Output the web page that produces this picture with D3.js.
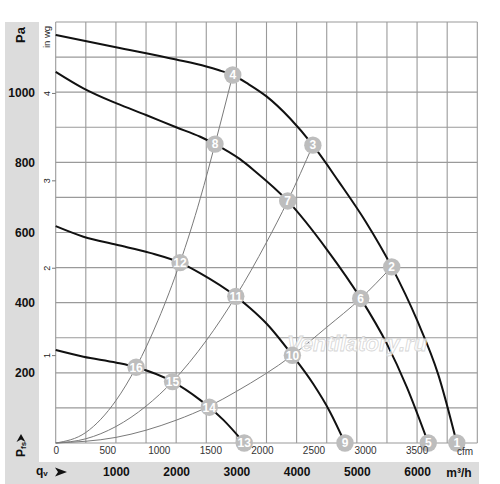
<!DOCTYPE html>
<html><head><meta charset="utf-8">
<script src="https://cdn.jsdelivr.net/npm/d3@7"></script>
<style>
html,body{margin:0;padding:0;background:#fff;}
text{font-family:'Liberation Sans',Arial,sans-serif;}
</style></head>
<body>
<svg id="c" width="500" height="484"></svg>
<script>
// ---- data (flow m³/h, static pressure Pa) ----
const flowTicks = [1000,2000,3000,4000,5000,6000];
const paTicks = [200,400,600,800,1000];
const inwgTicks = [1,2,3,4];
const cfmTicks = [0,500,1000,1500,2000,2500,3000,3500];
const gridFlow = [0,500,1000,1500,2000,2500,3000,3500,4000,4500,5000,5500,6000,6500,7000];
const gridPa = [0,100,200,300,400,500,600,700,800,900,1000,1100,1200];

const fanA = [[0,1163],[1000,1128],[2000,1093],[2500,1073],[2700,1063],[2940,1049],[3200,1023],[3500,988],[3892,925],[4270,849],[4700,745],[5150,630],[5579,502],[6000,350],[6352,195],[6660,0]];
const fanB = [[0,1058],[460,1011],[1010,968],[1500,935],[2000,900],[2400,873],[2645,852],[3060,809],[3300,776],[3852,690],[4509,550],[5064,412],[5495,284],[5828,160],[6186,0]];
const fanC = [[0,618],[460,588],[1010,565],[1565,542],[2064,514],[2396,484],[2990,418],[3226,385],[3503,340],[3930,250],[4277,168],[4550,90],[4803,0]];
const fanD = [[0,265],[460,246],[1010,229],[1335,216],[1940,175],[2396,123],[2550,102],[2783,66],[3130,0]];

const sys1 = [[0,0],[500,30],[1000,121],[1335,216],[1700,350],[2064,514],[2400,697],[2645,852],[2940,1049]];
const sys2 = [[0,0],[500,12],[1000,47],[1500,105],[1940,175],[2500,292],[2990,418],[3500,572],[3852,690],[4270,849]];
const sys3 = [[0,0],[1000,16],[2000,65],[2550,105],[3000,147],[3930,250],[4500,330],[5064,412],[5579,502]];

const markers = [
  [1,6660,0],[2,5579,502],[3,4270,849],[4,2940,1049],
  [5,6186,0],[6,5064,412],[7,3852,690],[8,2645,852],
  [9,4803,0],[10,3930,250],[11,2990,418],[12,2064,514],
  [13,3130,0],[14,2550,102],[15,1940,175],[16,1335,216]
];

// ---- scales ----
const x = d3.scaleLinear().domain([0,7000]).range([55.7,477.3]);
const y = d3.scaleLinear().domain([0,1200]).range([443,22]);
const xCfm = d3.scaleLinear().domain([0,7000/1.712]).range([55.7,477.3]);
const yWg = d3.scaleLinear().domain([0,1200/249.09]).range([443,22]);

const svg = d3.select('#c');
const FONT = "'Liberation Sans',Arial,sans-serif";
const fmt = d3.format('d');

// gray L-shaped panel
svg.append('rect').attr('x',5).attr('y',22).attr('width',34).attr('height',462).attr('fill','#dcdcdc');
svg.append('rect').attr('x',5).attr('y',462).attr('width',474).attr('height',22).attr('fill','#dcdcdc');

// grid
const g = svg.append('g');
g.selectAll('line.v').data(gridFlow).join('line')
  .attr('x1',d=>x(d)).attr('x2',d=>x(d)).attr('y1',y(1200)).attr('y2',y(0))
  .attr('stroke','#9a9a9a').attr('stroke-width',1.1);
g.selectAll('line.h').data(gridPa).join('line')
  .attr('y1',d=>y(d)).attr('y2',d=>y(d)).attr('x1',x(0)).attr('x2',x(7000))
  .attr('stroke','#9a9a9a').attr('stroke-width',1.1);

// in wg small ticks
g.selectAll('line.w').data(inwgTicks).join('line')
  .attr('x1',52).attr('x2',x(0)).attr('y1',d=>yWg(d)).attr('y2',d=>yWg(d))
  .attr('stroke','#777').attr('stroke-width',1);

// system curves
const line = d3.line().x(d=>x(d[0])).y(d=>y(d[1])).curve(d3.curveMonotoneX);
[sys1,sys2,sys3].forEach(s=>{
  svg.append('path').attr('d',line(s)).attr('fill','none').attr('stroke','#7a7a7a').attr('stroke-width',1);
});
// fan curves
[fanA,fanB,fanC,fanD].forEach(s=>{
  svg.append('path').attr('d',line(s)).attr('fill','none').attr('stroke','#111').attr('stroke-width',2);
});

// watermark
svg.append('text').attr('x',357).attr('y',351).attr('text-anchor','middle')
  .attr('font-family',FONT).attr('font-size',22).attr('font-weight','bold').attr('font-style','italic')
  .attr('fill','#ffffff').attr('fill-opacity',0.75).attr('stroke','#d6d6d6').attr('stroke-width',0.8)
  .text('Ventilatory.ru');

// markers
const mg = svg.selectAll('g.m').data(markers).join('g')
  .attr('transform',d=>`translate(${x(d[1])},${y(d[2])})`);
mg.append('circle').attr('r',8.7).attr('fill','#bdbdbd');
mg.append('text').attr('text-anchor','middle').attr('dy','0.36em')
  .attr('font-family',FONT).attr('font-size',12).attr('font-weight','bold').attr('fill','#fff')
  .text(d=>d[0]);

// Pa axis labels
const ay = d3.axisLeft(y).tickValues(paTicks).tickSize(0).tickPadding(0).tickFormat(fmt);
const ayg = svg.append('g').attr('transform','translate(35,0)').call(ay);
ayg.select('.domain').remove();
ayg.selectAll('text').attr('font-family',FONT).attr('font-size',12).attr('font-weight','bold').attr('fill','#111');

// in wg labels
svg.selectAll('text.wg').data(inwgTicks).join('text')
  .attr('transform',d=>`translate(50,${yWg(d)}) rotate(-90)`)
  .attr('text-anchor','middle').attr('font-family',FONT).attr('font-size',9).attr('fill','#222')
  .text(d=>d);
svg.append('text').attr('transform','translate(50,37) rotate(-90)').attr('text-anchor','middle')
  .attr('font-family',FONT).attr('font-size',9.5).attr('fill','#222').text('in wg');

// Pa title
svg.append('text').attr('transform','translate(25,35) rotate(-90)').attr('text-anchor','middle')
  .attr('font-family',FONT).attr('font-size',13).attr('font-weight','bold').attr('fill','#111').text('Pa');

// cfm labels
const ax2 = d3.axisBottom(xCfm).tickValues(cfmTicks).tickSize(0).tickPadding(0).tickFormat(fmt);
const ax2g = svg.append('g').attr('transform','translate(0,447)').call(ax2);
ax2g.select('.domain').remove();
ax2g.selectAll('text').attr('font-family',FONT).attr('font-size',10).attr('fill','#333').attr('dy','0.71em');
svg.append('text').attr('x',465).attr('y',454.5).attr('text-anchor','middle')
  .attr('font-family',FONT).attr('font-size',10).attr('fill','#333').text('cfm');

// m³/h labels
const ax = d3.axisBottom(x).tickValues(flowTicks).tickSize(0).tickPadding(0).tickFormat(fmt);
const axg = svg.append('g').attr('transform','translate(0,467)').call(ax);
axg.select('.domain').remove();
axg.selectAll('text').attr('font-family',FONT).attr('font-size',12).attr('font-weight','bold').attr('fill','#111');
svg.append('text').attr('x',459).attr('y',476.5).attr('text-anchor','middle')
  .attr('font-family',FONT).attr('font-size',12).attr('font-weight','bold').attr('fill','#111')
  .text('m³/h');

// qv label
const qt = svg.append('text').attr('x',36).attr('y',475)
  .attr('font-family',FONT).attr('font-size',12).attr('font-weight','bold').attr('fill','#111');
qt.append('tspan').text('q');
qt.append('tspan').attr('font-size',8).attr('dy',1).text('v');
svg.append('path').attr('d','M55,467.5 L67,472 L55,476.5 L58,472 Z').attr('fill','#111');

// Pfs label
const pt = svg.append('text').attr('transform','translate(25,457) rotate(-90)')
  .attr('font-family',FONT).attr('font-size',12).attr('font-weight','bold').attr('fill','#111');
pt.append('tspan').text('P');
pt.append('tspan').attr('font-size',8).attr('dy',1).text('fs');
svg.append('path').attr('d','M16.5,442 L21,434 L25.5,442 L21,439.5 Z').attr('fill','#111');
</script>
</body></html>
